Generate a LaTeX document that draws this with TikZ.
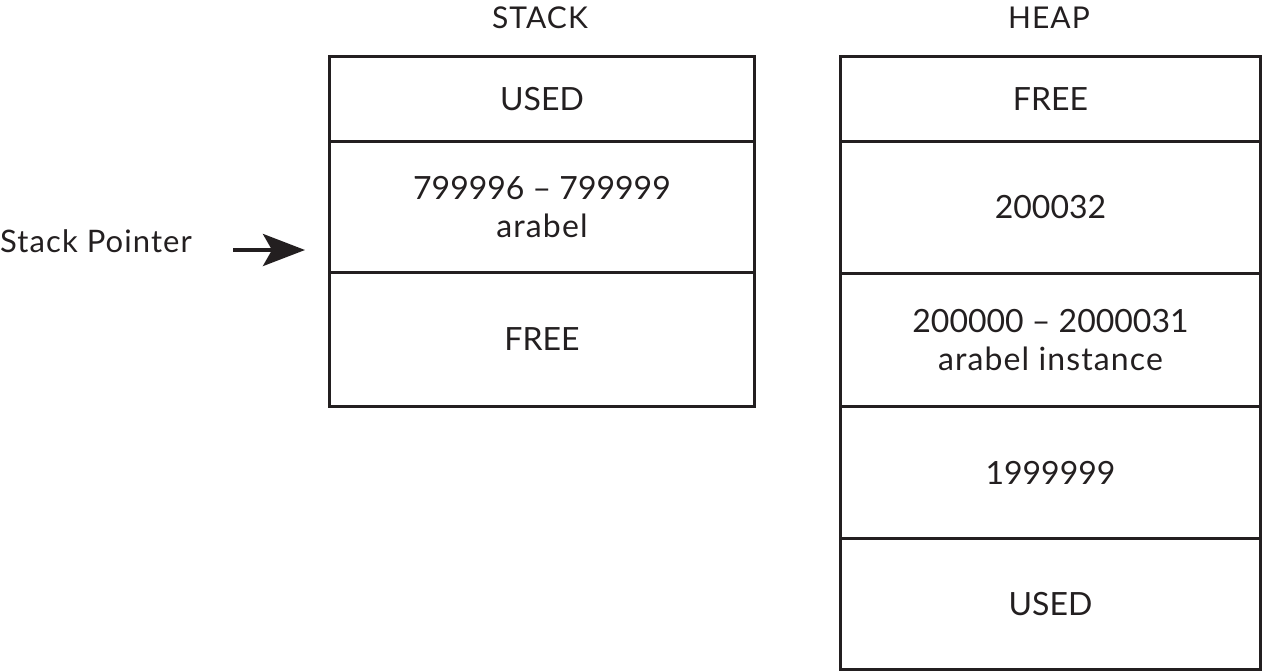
\documentclass[tikz,border=0pt]{standalone}
\usepackage{fontspec}
\setmainfont{Lato}
\newfontfamily\widefont[LetterSpace=3.5]{Lato}
\usetikzlibrary{arrows.meta}
\definecolor{ink}{HTML}{231F20}
\begin{document}
\begin{tikzpicture}[x=1pt,y=-1pt,
  cell/.style={draw=ink, line width=3pt, rectangle, inner sep=0pt, text=ink,
    font=\fontsize{32}{38}\selectfont, align=center, anchor=north west},
  hdr/.style={text=ink, font=\widefont\fontsize{30}{34}\selectfont, inner sep=0pt, anchor=base},
  lbl/.style={text=ink, font=\widefont\fontsize{31}{36}\selectfont, inner sep=0pt, anchor=base west}]
\useasboundingbox (0,0) rectangle (1263,670);
% STACK
\node[hdr] (hs) at (540,28) {STACK};
\node[cell, minimum width=425pt, minimum height=85pt] (s1) at (328,55) {USED};
\node[cell, minimum width=425pt, minimum height=131pt] (s2) at (328,140) {799996 – 799999\\{\widefont arabel}};
\node[cell, minimum width=425pt, minimum height=134pt] (s3) at (328,271) {FREE};
% HEAP
\node[hdr] (hh) at (1049,28) {HEAP};
\node[cell, minimum width=420pt, minimum height=85pt] (h1) at (839,55) {FREE};
\node[cell, minimum width=420pt, minimum height=132pt] (h2) at (839,140) {200032};
\node[cell, minimum width=420pt, minimum height=133pt] (h3) at (839,272) {200000 – 2000031\\{\widefont arabel instance}};
\node[cell, minimum width=420pt, minimum height=132pt] (h4) at (839,405) {1999999};
\node[cell, minimum width=420pt, minimum height=131pt] (h5) at (839,537) {USED};
% Stack pointer
\node[lbl] (sp) at (0,252) {Stack Pointer};
\coordinate (a1) at (233,250);
\coordinate (a2) at (305,250);
\draw[draw=ink, line width=4pt, -{Stealth[length=42pt, width=32pt, inset=9pt]}] (a1) -- (a2);
\end{tikzpicture}
\end{document}
